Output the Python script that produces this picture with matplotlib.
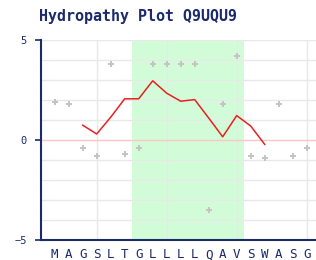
import matplotlib
matplotlib.use("Agg")
import matplotlib.pyplot as plt

residues = list("MAGSLTGLLLLQAVSWASG")
hydro = [1.9, 1.8, -0.4, -0.8, 3.8, -0.7, -0.4, 3.8, 3.8, 3.8, 3.8, -3.5, 1.8, 4.2, -0.8, -0.9, 1.8, -0.8, -0.4]
avg_pos = list(range(2, 16))
avg_vals = [0.74, 0.30, 1.14, 2.06, 2.06, 2.96, 2.34, 1.94, 2.02, 1.10, 0.16, 1.22, 0.70, -0.22]
band = (5.5, 13.5)
yticks = [5, 0, -5]
title = "Hydropathy Plot Q9UQU9"

navy = "#1a2a6c"
W, H = 316, 260
fig = plt.figure(figsize=(W/100, H/100), dpi=100)
left, right = 40.7, 320.7
top, bottom = 40, 240
ax = fig.add_axes([left/W, 1-bottom/H, (right-left)/W, (bottom-top)/H])
ax.set_xlim(-1, 19)
ax.set_ylim(-5, 5)

ax.axvspan(band[0], band[1], color="#d2fcd8", lw=0, zorder=0)
for y in [-4, -3, -2, -1, 1, 2, 3, 4, 5]:
    ax.axhline(y, color="#e8e8e8", lw=1, zorder=1)
for x in [3, 8, 13, 18]:
    ax.axvline(x, color="#e8e8e8", lw=1, zorder=1)
ax.axhline(0, color="#ffc4c4", lw=1, zorder=1.5)

xs = list(range(len(residues)))
ax.plot(xs, hydro, linestyle="none", marker="P", markersize=4.5, color="#c4c4c4", mew=0, zorder=2)
ax.plot(avg_pos, avg_vals, color="#e82020", lw=1.1, zorder=3)

for s in ["top", "right"]:
    ax.spines[s].set_visible(False)
for s in ["left", "bottom"]:
    ax.spines[s].set_color(navy)
    ax.spines[s].set_linewidth(1.5)

ax.set_yticks(yticks)
ax.set_yticklabels(["5", "0", "\u22125"], fontfamily="DejaVu Sans Mono", fontsize=7.5, color=navy)
ax.tick_params(axis="y", length=4, width=1.2, color=navy, pad=6)
ax.set_xticks(xs)
ax.set_xticklabels(residues, fontfamily="DejaVu Sans Mono", fontsize=9, color=navy)
ax.tick_params(axis="x", length=0, pad=6)

fig.text(39/W, 1-17/H, title, fontfamily="DejaVu Sans Mono", fontweight="bold",
         fontsize=10.8, color=navy, ha="left", va="center")

fig.savefig("out.png", dpi=100)
